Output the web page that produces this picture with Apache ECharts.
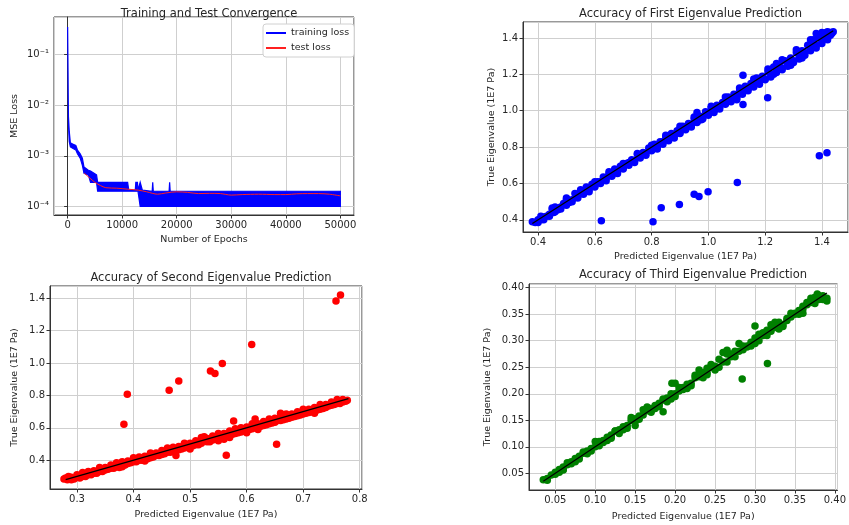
<!DOCTYPE html>
<html>
<head>
<meta charset="utf-8">
<script src="https://cdn.jsdelivr.net/npm/echarts@6/dist/echarts.min.js"></script>
<style>html,body{margin:0;padding:0;background:#fff;}#c{width:849px;height:525px;}</style>
</head>
<body>
<div id="c"></div>
<script>
// ---- Training convergence (envelope of the oscillating training loss) ----
const trainEpochs = [0, 150, 300, 500, 1000, 1500, 1800, 2300, 2700, 3000, 3800, 4200, 5300, 5500, 11000, 11200, 12400, 12500, 12800, 12900, 13300, 13700, 15500, 15600, 15700, 18600, 18700, 18800, 50000];
const trainLow   = [0.30, 0.004, 0.0019, 0.0015, 0.0014, 0.0013, 0.0011, 0.0009, 0.00065, 0.00045, 0.00042, 0.00030, 0.00030, 0.00020, 0.00020, 0.00020, 0.00020, 0.00020, 0.00020, 0.00020, 0.00010, 0.00010, 0.00010, 0.00010, 0.00010, 0.00010, 0.00010, 0.00010, 0.00010];
const trainHigh  = [0.35, 0.006, 0.0030, 0.0018, 0.0017, 0.0016, 0.0013, 0.0011, 0.0009, 0.00060, 0.00052, 0.00050, 0.00042, 0.00030, 0.00030, 0.00021, 0.00021, 0.00030, 0.00030, 0.00021, 0.00030, 0.00021, 0.00020, 0.00030, 0.00020, 0.00020, 0.00030, 0.00020, 0.00020];
const testEpochs = [3000, 4000, 5000, 6000, 7000, 9000, 11000, 13000, 14500, 16500, 18000, 20000, 22000, 24000, 26000, 28000, 30000, 32000, 35000, 38000, 40000, 42000, 44000, 46000, 48000, 50000];
const testLoss   = [4.6e-4, 3.7e-4, 3.0e-4, 2.6e-4, 2.35e-4, 2.3e-4, 2.2e-4, 2.1e-4, 1.95e-4, 1.75e-4, 1.85e-4, 1.95e-4, 1.9e-4, 1.8e-4, 1.82e-4, 1.8e-4, 1.68e-4, 1.72e-4, 1.75e-4, 1.72e-4, 1.72e-4, 1.78e-4, 1.8e-4, 1.8e-4, 1.75e-4, 1.62e-4];

// ---- First eigenvalue: [predicted, true] ----
const eig1 = [[0.38,0.39],[0.39,0.385],[0.40,0.40],[0.41,0.40],[0.42,0.415],[0.43,0.42],[0.44,0.43],[0.45,0.46],[0.455,0.44],[0.46,0.47],[0.47,0.455],[0.48,0.47],[0.49,0.49],[0.50,0.52],[0.51,0.495],[0.52,0.51],[0.53,0.545],[0.54,0.53],[0.55,0.55],[0.56,0.545],[0.57,0.58],[0.58,0.57],[0.59,0.595],[0.60,0.585],[0.61,0.61],[0.62,0.61],[0.63,0.635],[0.64,0.63],[0.65,0.655],[0.66,0.645],[0.67,0.68],[0.68,0.67],[0.69,0.695],[0.70,0.685],[0.71,0.71],[0.72,0.715],[0.73,0.73],[0.74,0.725],[0.75,0.76],[0.76,0.75],[0.77,0.77],[0.78,0.765],[0.79,0.795],[0.80,0.785],[0.81,0.815],[0.82,0.80],[0.83,0.83],[0.84,0.83],[0.85,0.855],[0.86,0.845],[0.87,0.875],[0.88,0.865],[0.89,0.89],[0.90,0.88],[0.91,0.915],[0.92,0.905],[0.93,0.93],[0.94,0.92],[0.95,0.955],[0.96,0.94],[0.97,0.97],[0.98,0.96],[0.99,0.995],[1.00,0.985],[1.01,1.015],[1.02,1.00],[1.03,1.03],[1.04,1.02],[1.05,1.045],[1.06,1.04],[1.07,1.075],[1.08,1.065],[1.09,1.09],[1.10,1.08],[1.11,1.11],[1.12,1.10],[1.13,1.135],[1.14,1.12],[1.15,1.15],[1.16,1.14],[1.17,1.18],[1.18,1.16],[1.19,1.19],[1.20,1.175],[1.21,1.215],[1.22,1.20],[1.23,1.24],[1.24,1.22],[1.25,1.25],[1.26,1.235],[1.27,1.275],[1.28,1.255],[1.29,1.29],[1.30,1.275],[1.31,1.32],[1.32,1.295],[1.33,1.33],[1.34,1.32],[1.35,1.36],[1.36,1.34],[1.37,1.375],[1.38,1.36],[1.39,1.40],[1.40,1.385],[1.41,1.42],[1.42,1.40],[1.43,1.43],[1.44,1.435],[1.435,1.425],[1.40,1.43],[1.38,1.425],[1.42,1.435],[0.96,0.99],[0.975,0.95],[1.10,1.06],[1.23,1.20],[1.24,1.26],[1.29,1.25],[1.33,1.29],[1.36,1.39],
  [0.40,0.385],[0.42,0.40],[0.44,0.42],[0.46,0.445],[0.48,0.46],[0.50,0.48],[0.52,0.50],[0.54,0.52],[0.56,0.54],[0.58,0.555],[0.60,0.58],[0.62,0.60],[0.64,0.615],[0.66,0.64],[0.68,0.655],[0.70,0.68],[0.72,0.70],[0.74,0.715],[0.76,0.74],[0.78,0.755],[0.80,0.78],[0.82,0.79],[0.84,0.815],[0.86,0.835],[0.88,0.85],[0.90,0.875],[0.92,0.895],[0.94,0.91],[0.96,0.935],[0.98,0.955],[1.00,0.975],[1.02,0.99],[1.04,1.01],[1.06,1.035],[1.08,1.05],[1.10,1.07],[1.12,1.09],[1.14,1.11],[1.16,1.13],[1.18,1.145],[1.20,1.17],[1.22,1.185],[1.24,1.21],[1.26,1.225],[1.28,1.245],[1.30,1.265],[1.32,1.285],[1.34,1.305],[1.36,1.33],[1.38,1.345],[1.40,1.37],[1.42,1.39],[1.43,1.415],[1.415,1.43],[1.395,1.415],[1.37,1.39],[1.31,1.335],[1.26,1.28],[1.21,1.23],[1.16,1.175],[1.11,1.125],[1.06,1.075],[1.01,1.025],[0.95,0.965],[0.90,0.915],[0.85,0.865],[0.80,0.81],[0.75,0.765],[0.70,0.71],[0.65,0.665],[0.60,0.61],[0.55,0.565],[0.50,0.51],[0.45,0.465],[0.41,0.42],
  [0.623,0.395],[0.805,0.39],[0.834,0.466],[0.898,0.484],[0.95,0.541],[0.967,0.528],[0.999,0.554],[1.102,0.605],[1.391,0.753],[1.418,0.769],[1.209,1.071],[1.122,1.034],[1.122,1.195]];
const diag1 = [0.38, 1.44];

// ---- Second eigenvalue ----
const eig2 = [[0.277,0.285],[0.283,0.28],[0.29,0.295],[0.295,0.285],[0.30,0.31],[0.305,0.29],[0.31,0.315],[0.315,0.30],[0.32,0.33],[0.325,0.31],[0.33,0.335],[0.335,0.32],[0.34,0.345],[0.345,0.33],[0.35,0.355],[0.355,0.345],[0.36,0.37],[0.365,0.35],[0.37,0.375],[0.375,0.355],[0.38,0.39],[0.385,0.37],[0.39,0.395],[0.395,0.385],[0.40,0.41],[0.405,0.39],[0.41,0.42],[0.415,0.40],[0.42,0.425],[0.425,0.41],[0.43,0.44],[0.435,0.42],[0.44,0.445],[0.445,0.43],[0.45,0.46],[0.455,0.44],[0.46,0.465],[0.465,0.45],[0.47,0.48],[0.475,0.43],[0.48,0.485],[0.485,0.47],[0.49,0.50],[0.495,0.48],[0.50,0.505],[0.505,0.49],[0.51,0.52],[0.515,0.495],[0.52,0.53],[0.525,0.545],[0.53,0.535],[0.535,0.515],[0.54,0.55],[0.545,0.53],[0.55,0.555],[0.555,0.54],[0.56,0.565],[0.565,0.55],[0.57,0.58],[0.575,0.56],[0.58,0.585],[0.585,0.57],[0.59,0.60],[0.595,0.58],[0.60,0.605],[0.605,0.59],[0.61,0.62],[0.615,0.655],[0.62,0.625],[0.625,0.61],[0.63,0.64],[0.635,0.62],[0.64,0.645],[0.645,0.63],[0.65,0.66],[0.655,0.645],[0.66,0.665],[0.665,0.65],[0.67,0.68],[0.675,0.66],[0.68,0.685],[0.685,0.67],[0.69,0.70],[0.695,0.68],[0.70,0.705],[0.705,0.69],[0.71,0.715],[0.715,0.70],[0.72,0.725],[0.725,0.71],[0.73,0.735],[0.735,0.72],[0.74,0.745],[0.745,0.735],[0.75,0.76],[0.755,0.745],[0.76,0.765],[0.765,0.75],[0.77,0.775],[0.775,0.765],[0.778,0.77],[0.38,0.36],[0.42,0.395],[0.50,0.47],[0.56,0.53],[0.60,0.57],[0.66,0.69],[0.72,0.69],
  [0.28,0.29],[0.29,0.28],[0.30,0.295],[0.31,0.30],[0.32,0.31],[0.33,0.32],[0.34,0.33],[0.35,0.34],[0.36,0.35],[0.37,0.36],[0.38,0.37],[0.39,0.38],[0.40,0.39],[0.41,0.40],[0.42,0.41],[0.43,0.415],[0.44,0.43],[0.45,0.435],[0.46,0.45],[0.47,0.455],[0.48,0.465],[0.49,0.475],[0.50,0.485],[0.51,0.495],[0.52,0.505],[0.53,0.515],[0.54,0.525],[0.55,0.535],[0.56,0.545],[0.57,0.555],[0.58,0.565],[0.59,0.575],[0.60,0.585],[0.61,0.595],[0.62,0.605],[0.63,0.615],[0.64,0.625],[0.65,0.635],[0.66,0.645],[0.67,0.655],[0.68,0.665],[0.69,0.675],[0.70,0.685],[0.71,0.695],[0.72,0.705],[0.73,0.715],[0.74,0.725],[0.75,0.74],[0.76,0.75],[0.77,0.76],[0.285,0.30],[0.31,0.325],[0.34,0.355],[0.37,0.385],[0.40,0.415],[0.43,0.445],[0.46,0.475],[0.49,0.505],[0.52,0.54],[0.55,0.565],[0.58,0.595],[0.61,0.625],[0.64,0.655],[0.67,0.685],[0.70,0.715],[0.73,0.745],[0.76,0.775],[0.55,0.52],[0.57,0.54],[0.62,0.59],
  [0.758,1.383],[0.766,1.421],[0.609,1.115],[0.557,0.998],[0.536,0.951],[0.544,0.936],[0.480,0.889],[0.463,0.833],[0.389,0.808],[0.383,0.623],[0.653,0.499],[0.564,0.431],[0.577,0.643]];
const diag2 = [0.28, 0.78];

// ---- Third eigenvalue ----
const eig3 = [[0.035,0.038],[0.04,0.04],[0.045,0.047],[0.05,0.048],[0.055,0.057],[0.06,0.056],[0.065,0.066],[0.07,0.068],[0.075,0.078],[0.08,0.077],[0.085,0.088],[0.09,0.087],[0.095,0.097],[0.10,0.11],[0.105,0.102],[0.11,0.108],[0.115,0.118],[0.12,0.116],[0.125,0.13],[0.13,0.125],[0.135,0.138],[0.14,0.135],[0.145,0.15],[0.15,0.14],[0.155,0.158],[0.16,0.17],[0.165,0.175],[0.17,0.165],[0.175,0.178],[0.18,0.176],[0.185,0.188],[0.19,0.185],[0.195,0.20],[0.20,0.22],[0.205,0.205],[0.21,0.208],[0.215,0.218],[0.22,0.215],[0.225,0.23],[0.23,0.245],[0.235,0.24],[0.24,0.248],[0.245,0.25],[0.25,0.245],[0.255,0.265],[0.26,0.278],[0.265,0.26],[0.27,0.275],[0.275,0.28],[0.28,0.295],[0.285,0.283],[0.29,0.288],[0.295,0.297],[0.30,0.305],[0.305,0.30],[0.31,0.31],[0.315,0.32],[0.32,0.33],[0.325,0.325],[0.33,0.335],[0.335,0.33],[0.34,0.342],[0.345,0.345],[0.35,0.35],[0.355,0.357],[0.36,0.36],[0.365,0.368],[0.37,0.38],[0.375,0.382],[0.38,0.385],[0.385,0.378],[0.39,0.375],[0.372,0.375],[0.36,0.352],[0.33,0.322],[0.30,0.295],[0.24,0.236],[0.20,0.195],[0.18,0.182],[0.15,0.148],[0.12,0.122],[0.09,0.092],[0.06,0.062],
  [0.04,0.037],[0.05,0.052],[0.06,0.058],[0.07,0.072],[0.08,0.082],[0.09,0.09],[0.10,0.10],[0.11,0.112],[0.12,0.12],[0.13,0.132],[0.14,0.14],[0.15,0.153],[0.16,0.16],[0.17,0.172],[0.18,0.18],[0.19,0.192],[0.20,0.20],[0.21,0.212],[0.22,0.22],[0.23,0.232],[0.24,0.24],[0.25,0.252],[0.26,0.26],[0.27,0.27],[0.28,0.28],[0.29,0.29],[0.30,0.298],[0.31,0.315],[0.32,0.318],[0.33,0.33],[0.34,0.338],[0.35,0.352],[0.36,0.365],[0.37,0.372],[0.38,0.378],[0.385,0.385],[0.39,0.38],[0.055,0.052],[0.075,0.072],[0.095,0.092],[0.115,0.112],[0.135,0.132],[0.155,0.152],[0.175,0.172],[0.195,0.19],[0.215,0.21],[0.235,0.23],[0.255,0.25],[0.275,0.27],[0.295,0.29],[0.315,0.31],[0.335,0.327],[0.355,0.35],[0.375,0.37],[0.065,0.07],[0.085,0.09],[0.105,0.11],[0.125,0.13],[0.145,0.155],[0.165,0.168],[0.185,0.19],[0.205,0.212],[0.225,0.235],[0.245,0.255],[0.265,0.275],[0.285,0.29],[0.305,0.312],[0.325,0.335],[0.345,0.352],[0.365,0.372],[0.378,0.388],
  [0.3156,0.257],[0.284,0.228],[0.185,0.166],[0.196,0.22],[0.30,0.328],[0.265,0.282]];
const diag3 = [0.035, 0.39];

const titles = ['Training and Test Convergence', 'Accuracy of First Eigenvalue Prediction', 'Accuracy of Second Eigenvalue Prediction', 'Accuracy of Third Eigenvalue Prediction'];

const FONT = 'DejaVu Sans';
const TXT = '#262626';
const grids = [
  {left: 54, top: 17, width: 300, height: 198},
  {left: 523, top: 22, width: 325, height: 210},
  {left: 50, top: 286, width: 312, height: 203},
  {left: 529, top: 284, width: 318, height: 206}
];
const sup = {'0':'⁰','1':'¹','2':'²','3':'³','4':'⁴','5':'⁵','6':'⁶','7':'⁷','8':'⁸','9':'⁹','-':'⁻'};
function supStr(n){ return String(n).split('').map(c => sup[c]).join(''); }

function valAxis(gi, min, max, dec, name, gap, split) {
  return {
    type: 'value', gridIndex: gi, min: min, max: max, scale: true, splitNumber: split,
    name: name, nameLocation: 'middle', nameGap: gap,
    nameTextStyle: {fontFamily: FONT, fontSize: 9.5, color: TXT},
    axisLine: {show: true, onZero: false, lineStyle: {color: '#333', width: 1}},
    axisTick: {show: true, length: 3.5, lineStyle: {color: '#333'}},
    axisLabel: {fontFamily: FONT, fontSize: 10, color: TXT, margin: 5, showMinLabel: false, showMaxLabel: false,
      formatter: v => v.toFixed(dec)},
    splitLine: {show: true, lineStyle: {color: '#cfcfcf', width: 1}}
  };
}

const option = {
  animation: false,
  backgroundColor: '#fff',
  title: titles.map((t, i) => ({
    text: t, left: grids[i].left + grids[i].width / 2, textAlign: 'center',
    top: [3, 3, 267, 264][i],
    textStyle: {fontFamily: FONT, fontSize: 11.5, fontWeight: 'normal', color: TXT}
  })),
  grid: grids.map(g => Object.assign({show: true, borderColor: '#333', borderWidth: 1, backgroundColor: '#fff'}, g)),
  legend: {
    gridIndex: 0, orient: 'vertical', left: 263, top: 24, itemWidth: 20, itemHeight: 2, itemGap: 5,
    padding: [4, 5, 4, 3], borderColor: '#d0d0d0', borderWidth: 1, borderRadius: 3, backgroundColor: '#fff',
    textStyle: {fontFamily: FONT, fontSize: 9.5, color: TXT},
    data: [{name: 'training loss', icon: 'rect'}, {name: 'test loss', icon: 'rect'}]
  },
  xAxis: [
    Object.assign(valAxis(0, -2500, 52500, 0, 'Number of Epochs', 20, 5), {
      axisLabel: {fontFamily: FONT, fontSize: 10, color: TXT, margin: 5, showMinLabel: false, showMaxLabel: false, formatter: v => String(v)}
    }),
    valAxis(1, 0.347, 1.492, 1, 'Predicted Eigenvalue (1E7 Pa)', 20, 5),
    valAxis(2, 0.2523, 0.804, 1, 'Predicted Eigenvalue (1E7 Pa)', 21, 5),
    valAxis(3, 0.0171, 0.4033, 2, 'Predicted Eigenvalue (1E7 Pa)', 22, 8)
  ],
  yAxis: [
    {
      type: 'log', gridIndex: 0, logBase: 10, min: 6.8e-5, max: 0.55,
      name: 'MSE Loss', nameLocation: 'middle', nameGap: 34,
      nameTextStyle: {fontFamily: FONT, fontSize: 9.5, color: TXT},
      axisLine: {show: true, lineStyle: {color: '#333'}},
      axisTick: {show: true, length: 3.5, lineStyle: {color: '#333'}},
      axisLabel: {fontFamily: FONT, fontSize: 10, color: TXT, margin: 5, showMinLabel: false, showMaxLabel: false,
        formatter: v => '10' + supStr(Math.round(Math.log10(v)))},
      splitLine: {show: true, lineStyle: {color: '#cfcfcf', width: 1}}
    },
    valAxis(1, 0.333, 1.488, 1, 'True Eigenvalue (1E7 Pa)', 26, 5),
    valAxis(2, 0.2225, 1.476, 1, 'True Eigenvalue (1E7 Pa)', 30, 6),
    valAxis(3, 0.0185, 0.407, 2, 'True Eigenvalue (1E7 Pa)', 36, 8)
  ],
  series: [
    {
      name: 'training loss', type: 'custom', xAxisIndex: 0, yAxisIndex: 0,
      itemStyle: {color: '#0000ff'},
      encode: {x: 0, y: [1, 2]},
      data: trainEpochs.map((e, i) => [e, trainLow[i], trainHigh[i]]),
      renderItem: function (params, api) {
        if (params.dataIndex !== 0) return;
        const pts = [];
        for (let i = 0; i < trainEpochs.length; i++) pts.push(api.coord([trainEpochs[i], trainHigh[i]]));
        for (let i = trainEpochs.length - 1; i >= 0; i--) pts.push(api.coord([trainEpochs[i], trainLow[i]]));
        return {type: 'polygon', shape: {points: pts}, style: {fill: '#0000ff', stroke: '#0000ff', lineWidth: 1.2, lineJoin: 'miter'}};
      },
      z: 2
    },
    {
      name: 'test loss', type: 'line', xAxisIndex: 0, yAxisIndex: 0,
      data: testEpochs.map((e, i) => [e, testLoss[i]]),
      showSymbol: false, smooth: 0.3,
      lineStyle: {color: '#ff2020', width: 1}, itemStyle: {color: '#ff2020'}, z: 3
    },
    {type: 'scatter', xAxisIndex: 1, yAxisIndex: 1, data: eig1, symbolSize: 7.5, itemStyle: {color: '#0000ff', opacity: 1}},
    {type: 'line', xAxisIndex: 1, yAxisIndex: 1, data: [[diag1[0], diag1[0]], [diag1[1], diag1[1]]], showSymbol: false, lineStyle: {color: '#000', width: 1.3}, z: 4},
    {type: 'scatter', xAxisIndex: 2, yAxisIndex: 2, data: eig2, symbolSize: 7.5, itemStyle: {color: '#ff0000', opacity: 1}},
    {type: 'line', xAxisIndex: 2, yAxisIndex: 2, data: [[diag2[0], diag2[0]], [diag2[1], diag2[1]]], showSymbol: false, lineStyle: {color: '#000', width: 1.3}, z: 4},
    {type: 'scatter', xAxisIndex: 3, yAxisIndex: 3, data: eig3, symbolSize: 7.5, itemStyle: {color: '#008000', opacity: 1}},
    {type: 'line', xAxisIndex: 3, yAxisIndex: 3, data: [[diag3[0], diag3[0]], [diag3[1], diag3[1]]], showSymbol: false, lineStyle: {color: '#000', width: 1.3}, z: 4}
  ]
};
const chart = echarts.init(document.getElementById('c'), null, {renderer: 'canvas'});
chart.setOption(option);
</script>
</body>
</html>
